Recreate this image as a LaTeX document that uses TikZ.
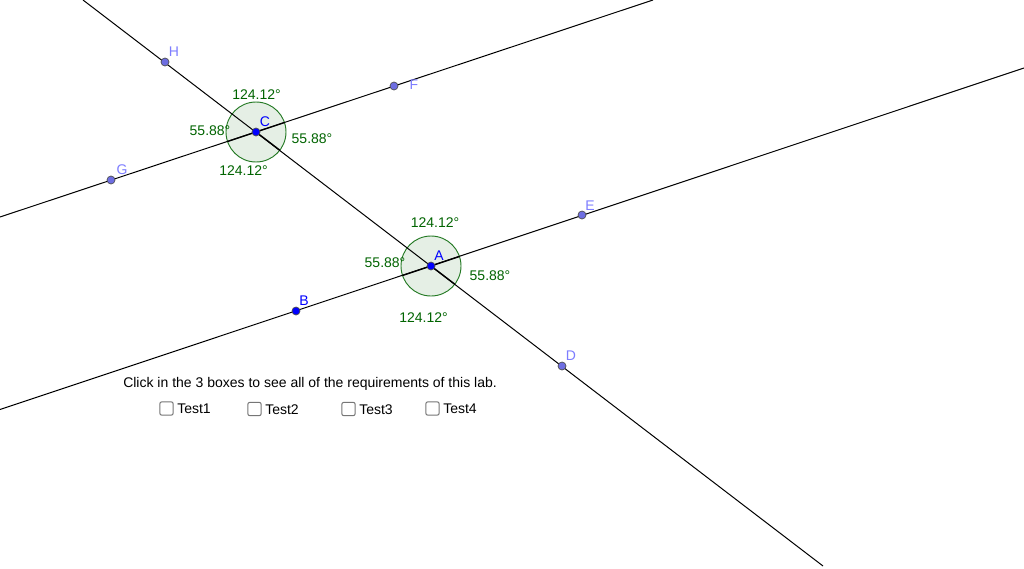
\documentclass[tikz,border=0pt]{standalone}
\usepackage{fontspec}
\setmainfont{Liberation Sans}
\definecolor{ggb}{RGB}{0,100,0}
\definecolor{ptlight}{RGB}{125,125,255}
\definecolor{ptdark}{RGB}{0,0,255}
\definecolor{ptfill}{RGB}{110,110,225}
\definecolor{boxgray}{RGB}{118,118,118}
\tikzset{
  geoline/.style={draw=black,line width=0.75pt},
  heavy/.style={draw=black,line width=1.05pt},
  anglecirc/.style={circle,minimum size=45pt,inner sep=0pt,draw=ggb,line width=0.7pt,draw opacity=0.85,fill=ggb,fill opacity=0.1},
  anglab/.style={text=ggb,font=\fontsize{10.5pt}{12pt}\selectfont,inner sep=0pt},
  freept/.style={circle,minimum size=6pt,inner sep=0pt,fill=ptfill,draw=black!70,line width=0.5pt},
  basept/.style={circle,minimum size=6pt,inner sep=0pt,fill=ptdark,draw=black!70,line width=0.5pt},
  lablight/.style={text=ptlight,font=\fontsize{10.5pt}{12pt}\selectfont,inner sep=0pt},
  labdark/.style={text=ptdark,font=\fontsize{10.5pt}{12pt}\selectfont,inner sep=0pt},
  uitext/.style={text=black,font=\fontsize{10.5pt}{12pt}\selectfont,inner sep=0pt},
  chk/.style={draw=boxgray,line width=0.75pt,rounded corners=1.5pt,fill=white,minimum size=10pt,inner sep=0pt}
}
\begin{document}
\begin{tikzpicture}[x=0.75pt,y=-0.75pt]
\useasboundingbox (0,0) rectangle (1024,568);
\fill[white] (0,0) rectangle (1024,568);
% line end points
\coordinate (L1a) at (0,409.5);
\coordinate (L1b) at (1024,68);
\coordinate (L2a) at (0,217);
\coordinate (L2b) at (653,0);
\coordinate (L3a) at (83,0);
\coordinate (L3b) at (823,566);
\coordinate (pA) at (431,266);
\coordinate (pC) at (256,132);
\coordinate (eA1) at (402.5,275.5);
\coordinate (eA2) at (459.5,256.5);
\coordinate (eA3) at (454.8,284.2);
\coordinate (eC1) at (227.5,141.5);
\coordinate (eC2) at (284.5,122.5);
\coordinate (eC3) at (279.8,150.2);
% angle circles
\node[anglecirc] (circA) at (pA) {};
\node[anglecirc] (circC) at (pC) {};
% lines
\draw[geoline] (L1a) -- (L1b);
\draw[geoline] (L2a) -- (L2b);
\draw[geoline] (L3a) -- (L3b);
% heavier sector edges
\draw[heavy] (eA1) -- (pA) -- (eA2);
\draw[heavy] (pA) -- (eA3);
\draw[heavy] (eC1) -- (pC) -- (eC2);
\draw[heavy] (pC) -- (eC3);
% points
\node[basept] (A) at (pA) {};
\node[basept] (C) at (pC) {};
\node[basept] (B) at (296,311) {};
\node[freept] (D) at (562,366) {};
\node[freept] (E) at (582,215) {};
\node[freept] (F) at (394,86) {};
\node[freept] (G) at (111,180) {};
\node[freept] (H) at (165,62) {};
% point labels
\node[labdark] (tA) at (439,256) {A};
\node[labdark] (tB) at (304,301) {B};
\node[labdark] (tC) at (265,121.5) {C};
\node[lablight] (tD) at (571,356) {D};
\node[lablight] (tE) at (590,206) {E};
\node[lablight] (tF) at (414,85) {F};
\node[lablight] (tG) at (122,170) {G};
\node[lablight] (tH) at (174,52) {H};
% angle labels
\node[anglab] (a1) at (256.5,95) {124.12°};
\node[anglab] (a2) at (210,131) {55.88°};
\node[anglab] (a3) at (312,139) {55.88°};
\node[anglab] (a4) at (243.5,171) {124.12°};
\node[anglab] (a5) at (435,223) {124.12°};
\node[anglab] (a6) at (385,263) {55.88°};
\node[anglab] (a7) at (490,276) {55.88°};
\node[anglab] (a8) at (423.5,318) {124.12°};
% text and checkboxes
\node[uitext,anchor=west] (msg) at (123,384) {Click in the 3 boxes to see all of the requirements of this lab.};
\node[chk] (b1) at (166.5,408.5) {};
\node[chk] (b2) at (254.5,409) {};
\node[chk] (b3) at (348.5,409) {};
\node[chk] (b4) at (432.5,408.5) {};
\node[uitext,anchor=west] (t1) at (177,409) {Test1};
\node[uitext,anchor=west] (t2) at (265,410) {Test2};
\node[uitext,anchor=west] (t3) at (359,410) {Test3};
\node[uitext,anchor=west] (t4) at (443,409) {Test4};
\end{tikzpicture}
\end{document}
